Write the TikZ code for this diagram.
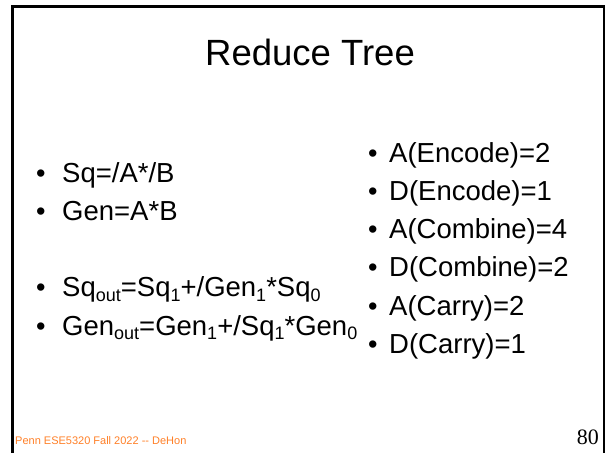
\documentclass[tikz,border=0pt]{standalone}
\usepackage{fontspec}
\setmainfont{Liberation Sans}
\newfontfamily\timesfont{Liberation Serif}
\definecolor{footorange}{RGB}{255,128,40}
% lowered, smaller text for subscripts in the formulas
\newcommand{\lo}[1]{\raisebox{-0.28ex}{\fontsize{18bp}{18bp}\selectfont #1}}
\tikzset{
  frame/.style={draw=black, line width=2.6bp},
  titletext/.style={inner sep=0pt, anchor=base, font=\fontsize{36.5bp}{40bp}\selectfont},
  dot/.style={inner sep=0pt, anchor=base west, font=\fontsize{27bp}{30bp}\selectfont},
  item/.style={inner sep=0pt, anchor=base west, font=\fontsize{27.5bp}{30bp}\selectfont},
  foot/.style={inner sep=0pt, anchor=base west, text=footorange, font=\fontsize{11bp}{13bp}\selectfont},
  pagenum/.style={inner sep=0pt, anchor=base east, font=\timesfont\fontsize{22bp}{24bp}\selectfont}
}
\begin{document}
\begin{tikzpicture}[x=1bp, y=-1bp]
  \useasboundingbox (0,0) rectangle (614,453);
  \fill[white] (0,0) rectangle (614,453);
  % slide frame, open at the bottom
  \draw[frame] (12.5,460) -- (12.5,6.5) -- (604,6.5) -- (604,460);
  \node[titletext] (title) at (310,66) {Reduce Tree};
  % left column
  \node[dot] (b1) at (36,183) {•};
  \node[item] (sq) at (62,183) {Sq=/A*/B};
  \node[dot] (b2) at (36,221) {•};
  \node[item] (gen) at (62,221) {Gen=A*B};
  \node[dot] (b3) at (36,297) {•};
  \node[item] (sqout) at (62,297) {Sq\lo{out}=Sq\lo{1}+/Gen\lo{1}*Sq\lo{0}};
  \node[dot] (b4) at (36,335) {•};
  \node[item] (genout) at (62,335) {Gen\lo{out}=Gen\lo{1}+/Sq\lo{1}*Gen\lo{0}};
  % right column
  \node[dot] (c1) at (368,163) {•};
  \node[item] (ae) at (389,163) {A(Encode)=2};
  \node[dot] (c2) at (368,201) {•};
  \node[item] (de) at (389,201) {D(Encode)=1};
  \node[dot] (c3) at (368,239) {•};
  \node[item] (ac) at (389,239) {A(Combine)=4};
  \node[dot] (c4) at (368,277) {•};
  \node[item] (dc) at (389,277) {D(Combine)=2};
  \node[dot] (c5) at (368,315) {•};
  \node[item] (ar) at (389,315) {A(Carry)=2};
  \node[dot] (c6) at (368,353) {•};
  \node[item] (dr) at (389,353) {D(Carry)=1};
  % footer
  \node[foot] (footer) at (15,444) {Penn ESE5320 Fall 2022 -{}- DeHon};
  \node[pagenum] (page) at (599,444) {80};
\end{tikzpicture}
\end{document}
